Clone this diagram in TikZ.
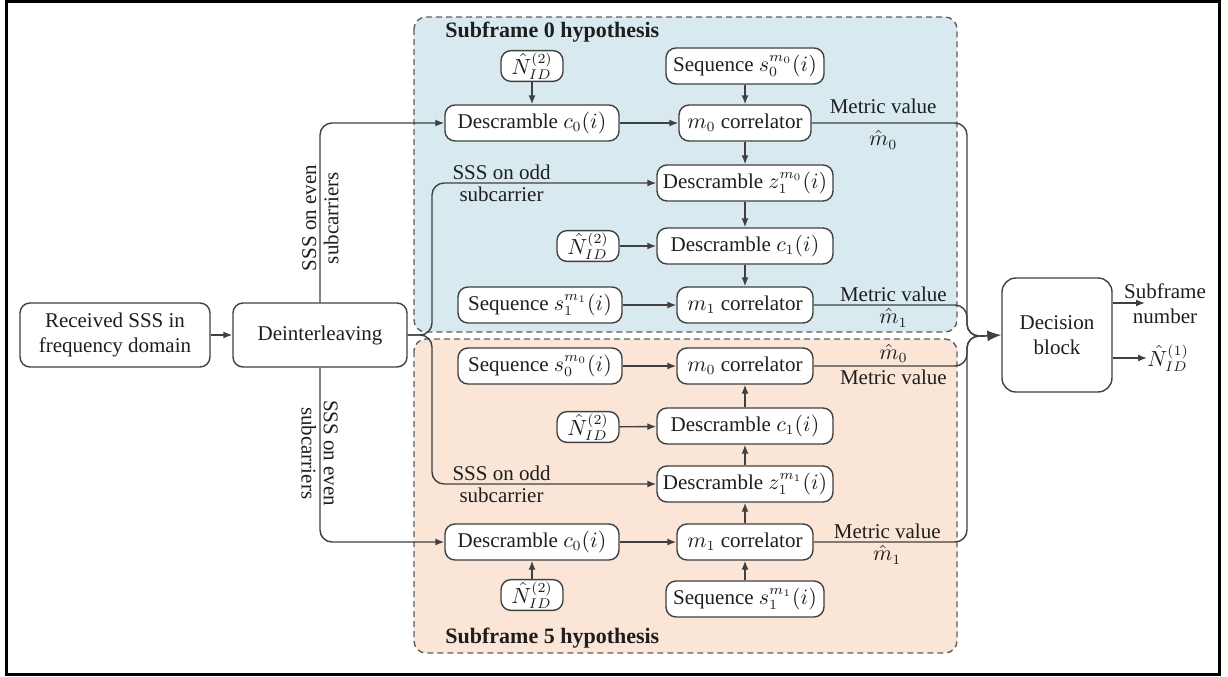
\documentclass[tikz,border=0pt]{standalone}
\usepackage{fontspec}
\setmainfont{Liberation Serif}
\usetikzlibrary{positioning,arrows.meta,calc}
\definecolor{hLine}{RGB}{64,64,64}
\definecolor{hText}{RGB}{30,30,30}
\definecolor{hBlue}{RGB}{216,234,240}
\definecolor{hPeach}{RGB}{250,229,214}
\definecolor{hDash}{RGB}{95,95,95}
\tikzset{
  blk/.style={rectangle, rounded corners=5pt, draw=hLine, fill=white, line width=0.7pt,
              minimum height=18pt, inner sep=2pt, align=center, text=hText,
              font=\fontsize{10.5}{12.5}\selectfont},
  nid/.style={blk, minimum width=31pt, minimum height=15pt, inner sep=1pt},
  big/.style={blk, minimum height=32pt},
  panel/.style={draw=hDash, dash pattern=on 3pt off 2pt, line width=0.7pt, rounded corners=6pt},
  wire/.style={draw=hLine, line width=0.7pt},
  flow/.style={wire, -{Latex[length=4.5pt,width=3.5pt]}},
  bigflow/.style={wire, -{Latex[length=7pt,width=5.5pt]}},
  lbl/.style={font=\fontsize{10.5}{12.5}\selectfont, text=hText, inner sep=1.5pt},
  ttl/.style={font=\fontsize{11}{13}\selectfont\bfseries, text=hText, anchor=west, inner sep=0pt},
}

\begin{document}
\begin{tikzpicture}[x=0.5pt, y=-0.5pt]
  \useasboundingbox (0,0) rectangle (1228,676);
  \draw[line width=1.5pt] (6,1) rectangle (1219,674);

  % hypothesis panels
  \draw[panel, fill=hBlue] (414,17) rectangle (957,332);
  \draw[panel, fill=hPeach] (414,339) rectangle (957,653);
  \node[ttl] (t0) at (445,32) {Subframe 0 hypothesis};
  \node[ttl] (t5) at (445,638) {Subframe 5 hypothesis};

  % input chain
  \node[big, minimum width=95pt] (rx) at (115,335) {Received SSS in\\frequency domain};
  \node[big, minimum width=87pt] (dint) at (320,335) {Deinterleaving};

  % subframe 0
  \node[nid] (na) at (532,66) {$\hat{N}_{ID}^{(2)}$};
  \node[blk, minimum width=87pt] (dca) at (532,123) {Descramble $c_0(i)$};
  \node[blk, minimum width=79pt] (sqa) at (745,66) {Sequence $s_0^{m_0}(i)$};
  \node[blk, minimum width=66pt] (mca) at (745,123) {$m_0$ correlator};
  \node[blk, minimum width=88pt] (dza) at (745,183) {Descramble $z_1^{m_0}(i)$};
  \node[nid] (nb) at (588,246) {$\hat{N}_{ID}^{(2)}$};
  \node[blk, minimum width=88pt] (dcb) at (745,246) {Descramble $c_1(i)$};
  \node[blk, minimum width=82pt] (sqb) at (540,305) {Sequence $s_1^{m_1}(i)$};
  \node[blk, minimum width=68pt] (mcb) at (745,305) {$m_1$ correlator};

  % subframe 5
  \node[blk, minimum width=82pt] (sqc) at (540,366) {Sequence $s_0^{m_0}(i)$};
  \node[blk, minimum width=68pt] (mcc) at (745,366) {$m_0$ correlator};
  \node[nid] (nc) at (588,427) {$\hat{N}_{ID}^{(2)}$};
  \node[blk, minimum width=88pt] (dcd) at (745,426) {Descramble $c_1(i)$};
  \node[blk, minimum width=88pt] (dzb) at (745,484) {Descramble $z_1^{m_1}(i)$};
  \node[blk, minimum width=87pt] (dcc) at (532,542) {Descramble $c_0(i)$};
  \node[blk, minimum width=68pt] (mcd) at (745,542) {$m_1$ correlator};
  \node[nid] (nd) at (532,595) {$\hat{N}_{ID}^{(2)}$};
  \node[blk, minimum width=79pt] (sqd) at (745,599) {Sequence $s_1^{m_1}(i)$};

  \node[blk, minimum width=55pt, minimum height=57pt, rounded corners=7pt] (dec) at (1057,335) {Decision\\block};

  % input connectors
  \draw[flow] (rx) -- (dint);
  \draw[flow, rounded corners=6pt] (dint.north) |-
      node[pos=0.235, rotate=90, above, lbl] {SSS on even}
      node[pos=0.235, rotate=90, below, lbl] {subcarriers} (dca.west);
  \draw[flow, rounded corners=6pt] (dint.south) |-
      node[pos=0.245, rotate=-90, above, lbl] {SSS on even}
      node[pos=0.245, rotate=-90, below, lbl] {subcarriers} (dcc.west);
  \coordinate (spl) at (432,335);
  \draw[flow, rounded corners=6pt] (dint.east) -- (spl) |-
      node[pos=0.655, above, lbl] {SSS on odd}
      node[pos=0.655, below, lbl] {subcarrier} (dza.west);
  \draw[flow, rounded corners=6pt] (dint.east) -- (spl) |-
      node[pos=0.655, above, lbl] {SSS on odd}
      node[pos=0.655, below, lbl] {subcarrier} (dzb.west);

  % subframe 0 flow
  \draw[flow] (na) -- (dca);
  \draw[flow] (sqa) -- (mca);
  \draw[flow] (dca) -- (mca);
  \draw[flow] (mca) -- (dza);
  \draw[flow] (dza) -- (dcb);
  \draw[flow] (nb) -- (dcb);
  \draw[flow] (dcb) -- (mcb);
  \draw[flow] (sqb) -- (mcb);

  % subframe 5 flow
  \draw[flow] (sqc) -- (mcc);
  \draw[flow] (nc) -- (dcd);
  \draw[flow] (dcd) -- (mcc);
  \draw[flow] (dzb) -- (dcd);
  \draw[flow] (mcd) -- (dzb);
  \draw[flow] (nd) -- (dcc);
  \draw[flow] (sqd) -- (mcd);
  \draw[flow] (dcc) -- (mcd);

  % metric values to decision
  \coordinate (jn) at (967,336);
  \coordinate (mrg) at (985,336);
  \draw[wire, rounded corners=6pt] (mca.east) -|
      node[pos=0.23, above=3pt, lbl] {Metric value}
      node[pos=0.23, below=2pt, lbl] {$\hat{m}_0$} (jn) -- (mrg);
  \draw[wire, rounded corners=6pt] (mcb.east) -|
      node[pos=0.26, above, lbl] {Metric value}
      node[pos=0.26, below, lbl] {$\hat{m}_1$} (jn) -- (mrg);
  \draw[wire, rounded corners=6pt] (mcc.east) -|
      node[pos=0.26, above, lbl] {$\hat{m}_0$}
      node[pos=0.26, below, lbl] {Metric value} (jn) -- (mrg);
  \draw[wire, rounded corners=6pt] (mcd.east) -|
      node[pos=0.24, above, lbl] {Metric value}
      node[pos=0.24, below, lbl] {$\hat{m}_1$} (jn) -- (mrg);
  \draw[bigflow] (mrg) -- (dec.west);

  % outputs
  \coordinate (sfo) at (1145,303);
  \draw[flow] (dec.east |- sfo) -- (sfo);
  \node[lbl, align=center] (sfn) at (1165,304) {Subframe\\number};
  \node[lbl, anchor=west, inner sep=0pt] (nid1) at (1147,358) {$\hat{N}_{ID}^{(1)}$};
  \draw[flow] (dec.east |- nid1) -- (nid1.west);
\end{tikzpicture}
\end{document}
